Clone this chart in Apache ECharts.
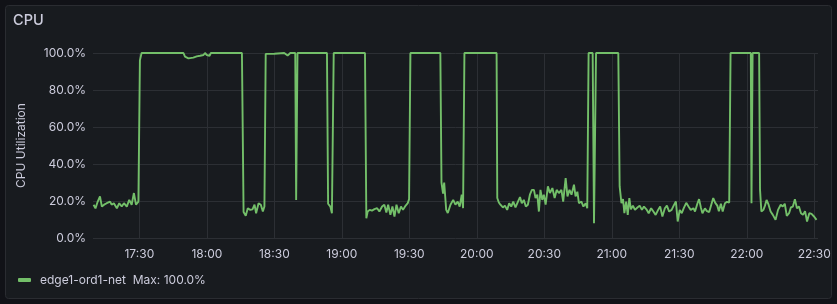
<!DOCTYPE html>
<html><head><meta charset="utf-8">
<script src="https://cdn.jsdelivr.net/npm/echarts@6/dist/echarts.min.js"></script>
<style>html,body{margin:0;padding:0;background:#111217;}#c{width:837px;height:304px;}</style>
</head><body><div id="c"></div>
<script>
const seriesName = "edge1-ord1-net";
const yTicks = [0, 20, 40, 60, 80, 100];
const xTickLabels = ["17:30","18:00","18:30","19:00","19:30","20:00","20:30","21:00","21:30","22:00","22:30"];
const rangeStart = "17:09:24";
const rangeEnd = "22:31:40";
const times = [
"17:09:40","17:10:30","17:11:30","17:12:30","17:13:20","17:14:20","17:15:30","17:17:00","17:17:40","17:18:40",
"17:20:00","17:21:05","17:22:10","17:23:10","17:24:25","17:25:30","17:26:35","17:27:35","17:28:30","17:29:35",
"17:30:15","17:31:00","17:49:36","17:50:18","17:51:48","17:54:00","17:55:30","17:57:00","17:58:30","17:59:12",
"18:00:00","18:01:12","18:01:48","18:15:36","18:16:20","18:16:42","18:17:18","18:18:12","18:19:18","18:20:18",
"18:21:12","18:21:54","18:23:00","18:24:00","18:24:54","18:25:36","18:26:10","18:26:40","18:30:00","18:30:30",
"18:34:24","18:35:54","18:37:06","18:39:18","18:39:42","18:40:18","18:53:24","18:53:54","18:54:54","18:55:36",
"18:56:00","18:56:24","19:10:18","19:10:54","19:11:30","19:12:24","19:13:24","19:14:30","19:15:42","19:16:42",
"19:17:54","19:18:54","19:19:48","19:20:36","19:21:36","19:22:30","19:23:24","19:24:18","19:25:18","19:26:18",
"19:27:12","19:28:18","19:29:18","19:29:54","19:30:30","19:43:48","19:44:18","19:45:00","19:45:30","19:46:24",
"19:47:06","19:48:18","19:49:30","19:50:30","19:51:30","19:52:24","19:53:18","19:53:54","19:54:30","20:08:48",
"20:09:06","20:09:48","20:10:30","20:11:36","20:12:30","20:13:30","20:14:24","20:15:18","20:16:12","20:17:12",
"20:18:18","20:19:12","20:20:00","20:20:54","20:21:48","20:22:42","20:23:36","20:24:30","20:25:24","20:26:06",
"20:26:54","20:27:36","20:28:18","20:29:06","20:29:48","20:30:36","20:31:36","20:32:30","20:33:36","20:34:36",
"20:35:30","20:36:30","20:37:36","20:38:24","20:39:30","20:40:18","20:41:12","20:42:06","20:43:12","20:43:54",
"20:44:42","20:45:24","20:46:30","20:47:24","20:48:24","20:49:06","20:49:42","20:51:30","20:52:06","20:53:00",
"21:02:54","21:03:30","21:04:18","21:05:00","21:05:36","21:06:24","21:07:06","21:07:48","21:08:30","21:09:24",
"21:10:18","21:11:24","21:12:24","21:13:24","21:14:18","21:15:24","21:16:24","21:17:30","21:18:30","21:19:30",
"21:20:36","21:21:30","21:22:30","21:23:36","21:24:30","21:25:30","21:26:36","21:27:30","21:28:30","21:29:18",
"21:30:12","21:31:06","21:32:00","21:33:06","21:34:06","21:35:06","21:36:18","21:37:00","21:38:06","21:38:48",
"21:39:36","21:40:18","21:41:24","21:42:18","21:43:18","21:44:00","21:45:06","21:46:00","21:46:54","21:47:36",
"21:48:30","21:49:18","21:50:18","21:51:12","21:52:12","21:52:48","22:01:48","22:02:06","22:02:36","22:05:30",
"22:05:54","22:06:30","22:07:24","22:08:06","22:08:48","22:09:42","22:10:36","22:11:36","22:12:48","22:13:54",
"22:15:06","22:16:00","22:16:54","22:17:48","22:18:48","22:19:36","22:20:30","22:21:24","22:22:18","22:23:12",
"22:24:06","22:25:00","22:25:54","22:26:48","22:27:48","22:28:48","22:30:00","22:31:00"
];
const cpu = [
18,16,19.7,22.5,17,18,18.8,19.7,18,18.8,
16.1,18.8,17,18.8,17,20.6,18,24.3,18,19.7,
96,100,100,98,97.1,97.5,98.2,98.5,98.9,100,
98.9,98.5,100,100,14,13.4,12,16.1,15.2,15.5,
18,13.4,18.8,18,14.3,17,99.5,99.6,99.6,100,
100,98.6,100,100,20.6,100,100,18.5,17,13.4,
14,100,100,10.7,14.3,15.2,14.8,15.6,16.1,14.3,
17,18,13.8,18,12.5,17,11.6,18,13.4,17,
15.2,17.4,18.8,21,100,100,30,24,30,15.2,
13.5,18,20.6,18,19.7,17,23.4,16.1,100,100,
21.6,19.2,18,16.5,17.5,15.2,18.8,17,19.7,16.5,
19.7,22.1,18.8,20.6,17,18,23.4,26,26,21.6,
23.4,14.3,26,20.6,23.4,18,27.9,24.3,27,21.6,
26,24.3,26,19.7,32.4,22.5,26,23.4,28.8,22.5,
25,18.8,19.7,17,18.8,16.1,100,100,8,100,
100,27.9,18.8,21,13.4,19.7,12.5,21.6,15.5,17.5,
15.2,16.5,17.5,15.2,17,15.5,13.4,16.1,14.3,12.5,
15.2,17,11.6,16.1,17.5,14.3,15.2,17.5,19.7,8.9,
15.2,13.4,16.1,19,17,15.2,16.1,14.3,18.8,21,
16.5,13.4,16,14.5,14,17,21.6,19,17.5,14.5,
18.5,14.3,18.8,19.5,19.2,100,100,18.8,100,100,
26,14.3,15.2,17.5,20.6,18,14.3,12.5,9.8,15.2,
18,17,18.5,12,13.4,16.5,17,21,16.1,17,
13.4,12.5,14.5,8.9,13.4,13,11.5,9.8
];

function toTs(s) {
  const p = s.split(":").map(Number);
  return new Date(2024, 0, 1, p[0], p[1], p[2] || 0).getTime();
}
function pad(n) { return (n < 10 ? "0" : "") + n; }
const data = times.map((t, i) => [toTs(t), cpu[i]]);
const tickValues = xTickLabels.map(toTs);
const maxVal = Math.max.apply(null, cpu);

const chart = echarts.init(document.getElementById('c'), null, {renderer: 'canvas'});
const textColor = '#ccccdc';
const font = 'Inter, "Noto Sans", sans-serif';
chart.setOption({
  backgroundColor: 'transparent',
  animation: false,
  graphic: [{
    type: 'rect', left: 5, top: 5, z: -10,
    shape: {width: 826, height: 293, r: 3},
    style: {fill: '#181b1f', stroke: '#2a2c31', lineWidth: 1}
  }],
  title: {
    text: 'CPU', left: 8, top: 8,
    textStyle: {color: textColor, fontSize: 14.5, fontWeight: 500, fontFamily: font}
  },
  legend: {
    left: 13, top: 269,
    itemWidth: 13, itemHeight: 4, itemGap: 10,
    icon: 'roundRect',
    formatter: function (name) { return name + '  Max: ' + maxVal.toFixed(1) + '%'; },
    textStyle: {color: textColor, fontSize: 12, fontFamily: font, padding: [0, 0, 0, 4]}
  },
  grid: {left: 93, right: 19, top: 53, bottom: 66},
  xAxis: {
    type: 'value',
    min: toTs(rangeStart), max: toTs(rangeEnd),
    axisLine: {show: false},
    axisTick: {show: false, customValues: tickValues},
    splitLine: {show: true, lineStyle: {color: '#2c2f34', width: 1}},
    axisLabel: {
      customValues: tickValues,
      color: textColor, fontSize: 12, fontFamily: font, margin: 10,
      formatter: function (v) { const d = new Date(v); return pad(d.getHours()) + ':' + pad(d.getMinutes()); }
    }
  },
  yAxis: {
    type: 'value', min: yTicks[0], max: yTicks[yTicks.length - 1], interval: 20,
    name: 'CPU Utilization', nameLocation: 'middle', nameGap: 66, nameRotate: 90,
    nameTextStyle: {color: textColor, fontSize: 12, fontFamily: font},
    axisLine: {show: false}, axisTick: {show: false},
    splitLine: {lineStyle: {color: '#2c2f34', width: 1}},
    axisLabel: {color: textColor, fontSize: 12, fontFamily: font, margin: 7,
      formatter: function (v) { return v.toFixed(1) + '%'; }}
  },
  series: [{
    name: seriesName, type: 'line', data: data,
    showSymbol: false, symbol: 'none',
    lineStyle: {color: '#73bf69', width: 1.9},
    itemStyle: {color: '#73bf69'}
  }]
});
</script></body></html>
